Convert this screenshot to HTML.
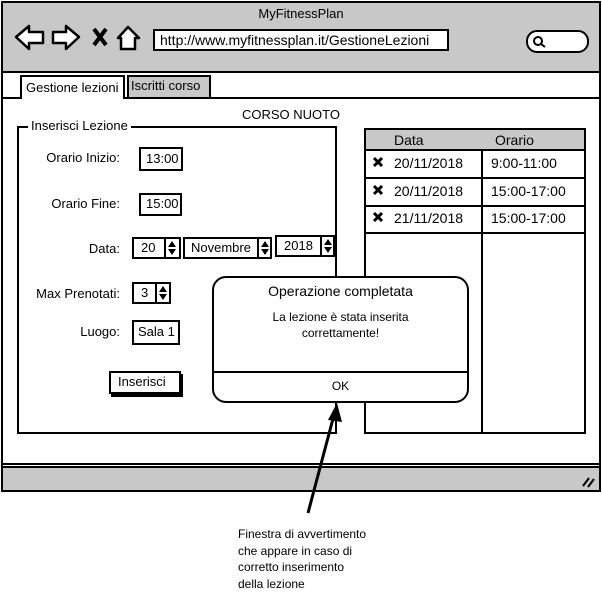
<!DOCTYPE html>
<html><head><meta charset="utf-8"><style>
body{margin:0;width:602px;height:604px;background:#fff;position:relative;overflow:hidden;font-family:"Liberation Sans",sans-serif;font-size:13px;color:#000}
.a{position:absolute}
.box{position:absolute;border:2px solid #000;background:#fff;box-sizing:border-box}
.t{position:absolute;white-space:nowrap}
.lab{position:absolute;white-space:nowrap;text-align:right;width:110px;left:10px}
</style></head><body>
<div class="box" style="left:1px;top:1px;width:600px;height:491px;border-width:2px"></div>
<div class="a" style="left:3px;top:3px;width:596px;height:68px;background:#c8c8c8;border-bottom:2px solid #000"></div>
<div class="t" style="left:0;width:602px;text-align:center;top:6px">MyFitnessPlan</div>
<div class="box" style="left:153px;top:29px;width:296px;height:22px"></div>
<div class="t" style="left:160px;top:32px;font-size:14px">http://www.myfitnessplan.it/GestioneLezioni</div>
<div class="a" style="left:1px;top:97px;width:600px;height:2px;background:#000"></div>
<div class="a" style="left:20px;top:75px;width:105px;height:24px;background:#fff;border:2px solid #000;border-bottom:none;box-sizing:border-box"></div>
<div class="t" style="left:26px;top:80px">Gestione lezioni</div>
<div class="a" style="left:127px;top:75px;width:84px;height:22px;background:#c8c8c8;border:2px solid #000;border-bottom:none;box-sizing:border-box"></div>
<div class="t" style="left:131px;top:78px">Iscritti corso</div>
<div class="a" style="left:1px;top:463px;width:600px;height:2px;background:#000"></div>
<div class="a" style="left:3px;top:466px;width:596px;height:22px;background:#c8c8c8;border-top:2px solid #000"></div>
<div class="t" style="left:0;width:582px;text-align:center;top:107px">CORSO NUOTO</div>
<div class="box" style="left:17px;top:126px;width:320px;height:308px"></div>
<div class="t" style="left:28px;top:118px;background:#fff;padding:0 3px">Inserisci Lezione</div>
<div class="lab" style="top:150px">Orario Inizio:</div>
<div class="box" style="left:139px;top:147px;width:44px;height:24px"></div><div class="t" style="left:146px;top:151px">13:00</div>
<div class="lab" style="top:196px">Orario Fine:</div>
<div class="box" style="left:139px;top:193px;width:43px;height:23px"></div><div class="t" style="left:146px;top:196px">15:00</div>
<div class="lab" style="top:241px">Data:</div>
<div class="box" style="left:132px;top:237px;width:49px;height:22px"></div><div class="t" style="left:141px;top:240px">20</div>
<div class="a" style="left:164px;top:237px;width:2px;height:22px;background:#000"></div>
<div class="box" style="left:183px;top:237px;width:89px;height:22px"></div><div class="t" style="left:191px;top:240px">Novembre</div>
<div class="a" style="left:257px;top:237px;width:2px;height:22px;background:#000"></div>
<div class="box" style="left:275px;top:235px;width:60px;height:22px"></div><div class="t" style="left:284px;top:238px">2018</div>
<div class="a" style="left:320px;top:235px;width:2px;height:22px;background:#000"></div>
<div class="lab" style="top:286px">Max Prenotati:</div>
<div class="box" style="left:132px;top:282px;width:39px;height:22px"></div><div class="t" style="left:141px;top:285px">3</div>
<div class="a" style="left:155px;top:282px;width:2px;height:22px;background:#000"></div>
<div class="lab" style="top:324px">Luogo:</div>
<div class="box" style="left:132px;top:320px;width:48px;height:25px"></div><div class="t" style="left:138px;top:324px">Sala 1</div>
<div class="box" style="left:109px;top:371px;width:72px;height:23px;box-shadow:2px 3px 0 #000"></div><div class="t" style="left:118px;top:374px">Inserisci</div>
<div class="box" style="left:364px;top:128px;width:222px;height:306px"></div>
<div class="a" style="left:366px;top:130px;width:218px;height:19px;background:#c8c8c8;border-bottom:2px solid #000"></div>
<div class="t" style="left:394px;top:132px;font-size:14px">Data</div><div class="t" style="left:495px;top:132px;font-size:14px">Orario</div>
<div class="a" style="left:481px;top:150px;width:2px;height:283px;background:#000"></div>
<div class="a" style="left:366px;top:177px;width:218px;height:2px;background:#000"></div>
<div class="a" style="left:366px;top:205px;width:218px;height:2px;background:#000"></div>
<div class="a" style="left:366px;top:232px;width:218px;height:2px;background:#000"></div>
<div style="font-size:14px">
<div class="t" style="left:394px;top:155px">20/11/2018</div><div class="t" style="left:491px;top:155px">9:00-11:00</div>
<div class="t" style="left:394px;top:183px">20/11/2018</div><div class="t" style="left:491px;top:183px">15:00-17:00</div>
<div class="t" style="left:394px;top:210px">21/11/2018</div><div class="t" style="left:491px;top:210px">15:00-17:00</div>
</div>
<div class="box" style="left:212px;top:276px;width:257px;height:127px;border-radius:14px"></div>
<div class="a" style="left:213px;top:371px;width:255px;height:2px;background:#000"></div>
<div class="t" style="left:212px;width:257px;text-align:center;top:283px;font-size:14px">Operazione completata</div>
<div class="t" style="left:212px;width:257px;text-align:center;top:309px;line-height:16px;font-size:12px">La lezione è stata inserita<br>correttamente!</div>
<div class="t" style="left:212px;width:257px;text-align:center;top:379px;font-size:12px">OK</div>
<div class="t" style="left:238px;top:526px;font-size:12px;line-height:16.5px">Finestra di avvertimento<br>che appare in caso di<br>corretto inserimento<br>della lezione</div>
<svg class="a" style="left:0;top:0" width="602" height="604">
<g stroke="#000" stroke-width="2.5" fill="#fff" stroke-linejoin="round">
<path d="M16 37 L29 26 L29 32 L43 32 L43 43 L29 43 L29 49 Z"/>
<path d="M79 37 L66 26 L66 32 L53 32 L53 43 L66 43 L66 49 Z"/>
<path d="M118 38 L128 27 L139 38 L135 38 L135 49 L121 49 L121 38 Z"/>
</g>
<path d="M94 29 L106 45 M106 29 L94 45" stroke="#000" stroke-width="4"/>
<rect x="527" y="31" width="61" height="21" rx="10" fill="#fff" stroke="#000" stroke-width="2"/>
<circle cx="538" cy="41" r="4" fill="none" stroke="#000" stroke-width="2"/>
<path d="M541 44 L545 47" stroke="#000" stroke-width="2"/>
<g fill="#000">
<path d="M168 247 L172 241 L176 247 Z M168 249 L176 249 L172 255 Z"/>
<path d="M261 247 L265 241 L269 247 Z M261 249 L269 249 L265 255 Z"/>
<path d="M324 245 L328 239 L332 245 Z M324 247 L332 247 L328 253 Z"/>
<path d="M159 292 L163 286 L167 292 Z M159 294 L167 294 L163 300 Z"/>
</g>
<g stroke="#000" stroke-width="3">
<path d="M374 158 L382 166 M382 158 L374 166"/>
<path d="M374 186 L382 194 M382 186 L374 194"/>
<path d="M374 213 L382 221 M382 213 L374 221"/>
</g>
<path d="M308 513 L334 415" stroke="#000" stroke-width="3"/>
<path d="M337 403 L328 420 L342 422 Z" fill="#000"/>
<path d="M583 486 L589 478 M588 487 L594 479" stroke="#000" stroke-width="2"/>
</svg>
</body></html>
